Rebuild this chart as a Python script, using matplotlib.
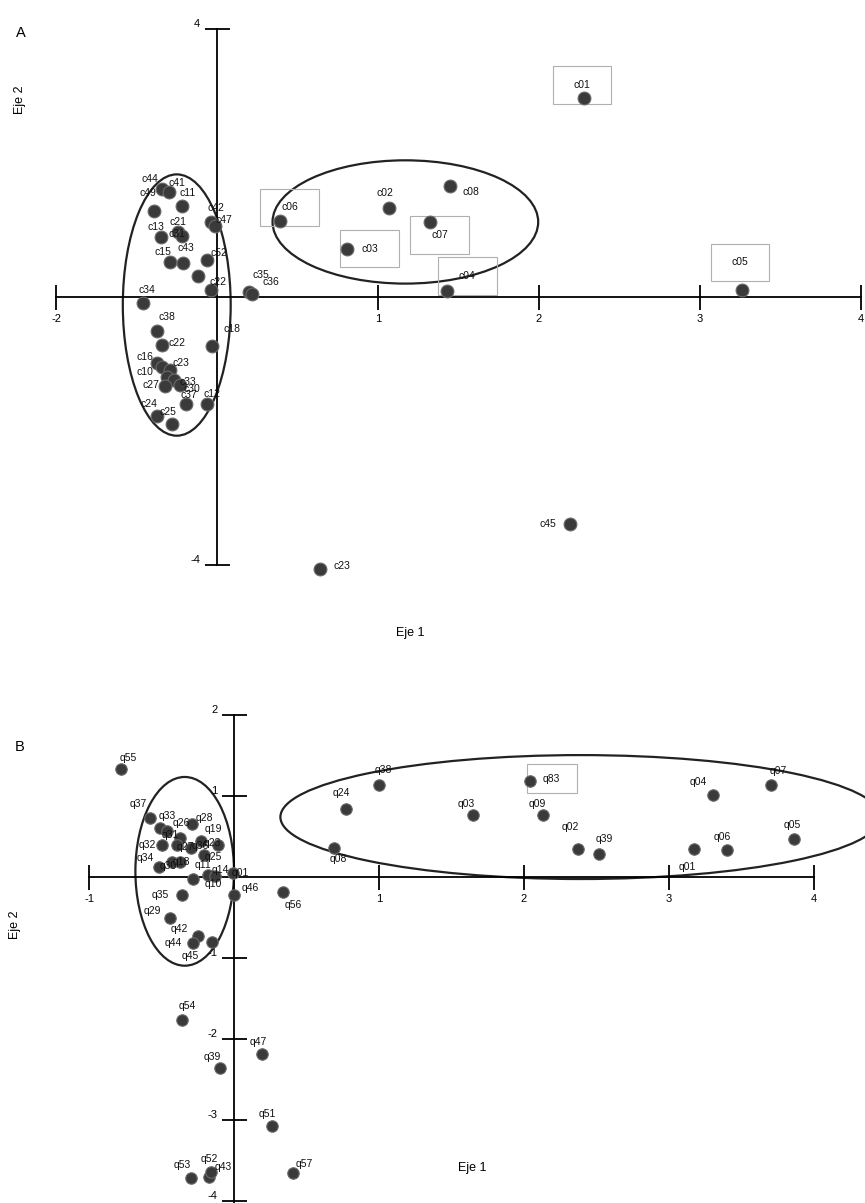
import matplotlib
matplotlib.use("Agg")
from matplotlib import pyplot as plt
from matplotlib.patches import Ellipse

plt.rcParams["font.family"] = ["Liberation Sans", "DejaVu Sans"]
plt.rcParams["axes.unicode_minus"] = False

# panel A (c items)
a_labels = ["c01", "c05", "c45", "c23", "c02", "c08", "c06", "c07", "c03", "c04",
            "c35", "c36", "c44", "c41", "c49", "c11", "c42", "c47", "c13", "c21",
            "c31", "c15", "c43", "c52", "", "c22", "c34", "c38", "c22", "c18",
            "c16", "c23", "c10", "", "c33", "c27", "c30", "c37", "c12", "c24", "c25"]
a_x = [2.28, 3.26, 2.19, 0.64, 1.07, 1.45, 0.39, 1.32, 0.81, 1.43,
       0.20, 0.22, -0.34, -0.30, -0.39, -0.22, -0.04, -0.01, -0.35, -0.24,
       -0.22, -0.29, -0.21, -0.06, -0.12, -0.04, -0.46, -0.37, -0.34, -0.03,
       -0.37, -0.34, -0.29, -0.31, -0.27, -0.32, -0.23, -0.19, -0.06, -0.37, -0.28]
a_y = [2.97, 0.10, -3.39, -4.06, 1.33, 1.66, 1.13, 1.12, 0.72, 0.09,
       0.07, 0.04, 1.61, 1.57, 1.28, 1.36, 1.12, 1.06, 0.90, 0.97,
       0.91, 0.52, 0.51, 0.55, 0.31, 0.10, -0.09, -0.51, -0.72, -0.73,
       -0.99, -1.04, -1.09, -1.19, -1.24, -1.33, -1.31, -1.60, -1.60, -1.78, -1.90]
a_boxed = ["c01", "c05", "c06", "c07", "c03", "c04"]
a_xticks = [-1, 1, 2, 3, 4]
a_xticklabels = ["-2", "1", "2", "3", "4"]
a_yticks = [-4, 4]
# (center x, center y, width, height)
a_ellipses = [(-0.25, -0.12, 0.67, 3.90), (1.17, 1.12, 1.65, 1.84)]

# panel B (q items)
b_labels = ["q55", "q37", "q33", "q26", "q28", "q31", "q23", "q32", "q27", "q36",
            "q25", "q18", "q30", "q19", "q34", "q11", "q14", "q10", "q01", "q46",
            "q56", "q35", "q29", "q42", "q44", "q45", "q54", "q47", "q39", "q51",
            "q53", "q52", "q43", "q57", "q38", "q24", "q08", "q03", "q83", "q09",
            "q02", "q39", "q04", "q07", "q01", "q06", "q05"]
b_x = [-0.78, -0.58, -0.51, -0.46, -0.29, -0.37, -0.23, -0.50, -0.39, -0.30,
       -0.21, -0.43, -0.37, -0.11, -0.52, -0.28, -0.18, -0.13, -0.01, 0.00,
       0.34, -0.36, -0.44, -0.25, -0.28, -0.15, -0.36, 0.19, -0.10, 0.26,
       -0.30, -0.17, -0.16, 0.41, 1.00, 0.77, 0.69, 1.65, 2.04, 2.13,
       2.37, 2.52, 3.30, 3.70, 3.17, 3.40, 3.86]
b_y = [1.33, 0.73, 0.61, 0.57, 0.65, 0.48, 0.45, 0.39, 0.39, 0.36,
       0.27, 0.18, 0.18, 0.39, 0.12, -0.02, 0.02, 0.01, 0.05, -0.22,
       -0.19, -0.22, -0.51, -0.73, -0.81, -0.80, -1.76, -2.18, -2.36, -3.07,
       -3.71, -3.70, -3.64, -3.66, 1.13, 0.84, 0.36, 0.76, 1.19, 0.76,
       0.35, 0.29, 1.01, 1.14, 0.35, 0.33, 0.47]
b_boxed = ["q83"]
b_xticks = [-1, 1, 2, 3, 4]
b_yticks = [-4, -3, -2, -1, 1, 2]
b_ellipses = [(-0.34, 0.07, 0.68, 2.33), (2.39, 0.74, 4.14, 1.53)]

# label offsets in pixels (dx, dy), up is positive
a_off = [(-2, 13), (-2, 28), (-22, 0), (22, 3), (-4, 15), (20, -6), (10, 14), (10, -13), (22, 0), (20, 15),
         (12, 17), (18, 12), (-12, 10), (8, 9), (-6, 18), (6, 13), (5, 14), (8, 6), (-5, 10), (0, 10),
         (-5, 2), (-7, 10), (3, 15), (12, 7), (0, 0), (7, 8), (4, 13), (10, 14), (15, 2), (20, 17),
         (-12, 6), (19, 4), (-25, -2), (0, 0), (14, -2), (-15, 1), (12, -4), (2, 9), (5, 10), (-8, 12), (-4, 12)]
b_off = [(7, 11), (-12, 14), (7, 12), (14, 8), (12, 6), (-10, 3), (12, -2), (-14, 0), (8, -2), (10, 2),
         (10, -2), (10, 0), (-12, -4), (-5, 16), (-13, 9), (10, 14), (12, 5), (-2, -8), (8, 0), (16, 7),
         (10, -13), (-22, 0), (-18, 7), (-18, 7), (-20, 0), (-22, -14), (5, 14), (-3, 12), (-7, 11), (-4, 12),
         (-8, 13), (0, 18), (12, 5), (11, 9), (4, 15), (-4, 16), (4, -11), (-7, 11), (22, 2), (-6, 11),
         (-7, 22), (5, 15), (-14, 13), (8, 14), (-6, -18), (-5, 13), (-1, 14)]

W, H = 865, 1203
fig = plt.figure(figsize=(W / 100, H / 100), dpi=100)


def px_axes(left, top, right, bottom):
    return fig.add_axes([left / W, 1 - bottom / H, (right - left) / W, (bottom - top) / H])


def setup(ax, xlim, ylim, xb, yb, xticks, yticks, xticklabels=None):
    ax.set_xlim(*xlim)
    ax.set_ylim(*ylim)
    for s in ["top", "right"]:
        ax.spines[s].set_visible(False)
    ax.spines["left"].set_position(("data", 0))
    ax.spines["bottom"].set_position(("data", 0))
    ax.spines["left"].set_bounds(*yb)
    ax.spines["bottom"].set_bounds(*xb)
    for s in ["left", "bottom"]:
        ax.spines[s].set_linewidth(1.3)
    ax.set_xticks(xticks)
    if xticklabels:
        ax.set_xticklabels(xticklabels)
    ax.set_yticks(yticks)
    ax.tick_params(direction="inout", length=18, width=1.3, labelsize=8, pad=3)
    for t in ax.get_yticklabels():
        t.set_va("bottom")
    ax.patch.set_alpha(0)


def draw(ax, labels, xs, ys, offs, boxed, box_pad, ellipses, size):
    for cx, cy, w, h in ellipses:
        ax.add_patch(Ellipse((cx, cy), w, h, fill=False, edgecolor="#222222", lw=1.6))
    ax.scatter(xs, ys, s=size, color="#3a3a3a", edgecolors="#6a6a6a", linewidths=0.8, zorder=3)
    for lab, x, y, (dx, dy) in zip(labels, xs, ys, offs):
        if not lab:
            continue
        if lab in boxed:
            # empty frame around the label
            ax.annotate(" " * 11, (x, y), xytext=(dx, dy), textcoords="offset pixels",
                        ha="center", va="center", fontsize=7.5, zorder=2,
                        bbox=dict(boxstyle="square,pad=%s" % box_pad, fc="none", ec="#b0b0b0", lw=0.8))
        ax.annotate(lab, (x, y), xytext=(dx, dy), textcoords="offset pixels",
                    ha="center", va="center", fontsize=7.5, color="#111111", zorder=4)


# panel A: x px = 217 + 161*x, y px = 297 - 67*y
axA = px_axes(20, 10, 865, 600)
setup(axA, ((20 - 217) / 161, (865 - 217) / 161), ((297 - 600) / 67, (297 - 10) / 67),
      (-1, 4), (-4, 4), a_xticks, a_yticks, a_xticklabels)
draw(axA, a_labels, a_x, a_y, a_off, a_boxed, 1.3, a_ellipses, 85)

# panel B: x px = 234 + 145*x, y px = 877 - 81*y
axB = px_axes(20, 690, 865, 1203)
setup(axB, ((20 - 234) / 145, (865 - 234) / 145), ((877 - 1203) / 81, (877 - 690) / 81),
      (-1, 4), (-4.1, 2), b_xticks, b_yticks)
draw(axB, b_labels, b_x, b_y, b_off, b_boxed, 0.9, b_ellipses, 68)

fig.text(16 / W, 1 - 33 / H, "A", fontsize=10.5, ha="left", va="center")
fig.text(15 / W, 1 - 747 / H, "B", fontsize=10.5, ha="left", va="center")
fig.text(20 / W, 1 - 100 / H, "Eje 2", fontsize=9, rotation=90, ha="center", va="center")
fig.text(410 / W, 1 - 633 / H, "Eje 1", fontsize=9, ha="center", va="center")
fig.text(15 / W, 1 - 925 / H, "Eje 2", fontsize=9, rotation=90, ha="center", va="center")
fig.text(472 / W, 1 - 1168 / H, "Eje 1", fontsize=9, ha="center", va="center")

fig.savefig("out.png", dpi=100)
